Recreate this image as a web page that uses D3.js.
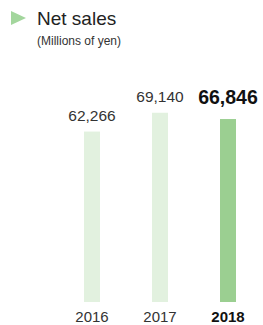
<!DOCTYPE html>
<html>
<head>
<meta charset="utf-8">
<style>
body {
  margin: 0;
  font-family: "Liberation Sans", Arial, Helvetica, sans-serif;
  background: #fff;
}
svg { display: block; }
</style>
<script src="https://cdn.jsdelivr.net/npm/d3@7/dist/d3.min.js"></script>
</head>
<body>
<script>
var years = ["2016", "2017", "2018"];
var sales = [62266, 69140, 66846];
var highlight = ["2018"];

var width = 263,
    height = 325,
    baseY = 302;

var svg = d3.select("body").append("svg")
  .attr("width", width)
  .attr("height", height);

// header
var head = svg.append("g").attr("class", "head");
head.append("path")
  .attr("d", d3.line()([[11, 11], [26, 18], [11, 25]]) + "Z")
  .attr("fill", "#a3d69d");
head.append("text")
  .attr("x", 37).attr("y", 25)
  .attr("font-size", "19px")
  .attr("fill", "#222")
  .text("Net sales");
head.append("text")
  .attr("x", 37).attr("y", 45)
  .attr("font-size", "12px")
  .attr("fill", "#333")
  .text("(Millions of yen)");

var x = d3.scalePoint()
  .domain(years)
  .range([92, 228]);

var y = d3.scaleLinear()
  .domain([0, 70000])
  .range([baseY, baseY - 191.6]);

var barW = 16;
var data = years.map(function(d, i) { return {year: d, value: sales[i]}; });
var isHi = function(d) { return highlight.indexOf(d.year) >= 0; };
var fmt = d3.format(",");

svg.append("g").attr("class", "bars")
  .selectAll("rect")
  .data(data)
  .enter().append("rect")
  .attr("x", function(d) { return x(d.year) - barW / 2; })
  .attr("y", function(d) { return y(d.value); })
  .attr("width", barW)
  .attr("height", function(d) { return y(0) - y(d.value); })
  .attr("fill", function(d) { return isHi(d) ? "#9bcf91" : "#e2f1df"; });

svg.append("g").attr("class", "values")
  .selectAll("text")
  .data(data)
  .enter().append("text")
  .attr("x", function(d) { return x(d.year); })
  .attr("y", function(d) { return y(d.value) - (isHi(d) ? 15 : 11); })
  .attr("text-anchor", "middle")
  .attr("font-size", function(d) { return isHi(d) ? "19.5px" : "15.5px"; })
  .attr("font-weight", function(d) { return isHi(d) ? "bold" : "normal"; })
  .attr("fill", function(d) { return isHi(d) ? "#111" : "#333"; })
  .text(function(d) { return fmt(d.value); });

// year labels sit just above the bottom edge
svg.append("g").attr("class", "years")
  .selectAll("text")
  .data(data)
  .enter().append("text")
  .attr("x", function(d) { return x(d.year); })
  .attr("y", 321.5)
  .attr("text-anchor", "middle")
  .attr("font-size", "15px")
  .attr("font-weight", function(d) { return isHi(d) ? "bold" : "normal"; })
  .attr("fill", function(d) { return isHi(d) ? "#111" : "#333"; })
  .text(function(d) { return d.year; });
</script>
</body>
</html>
